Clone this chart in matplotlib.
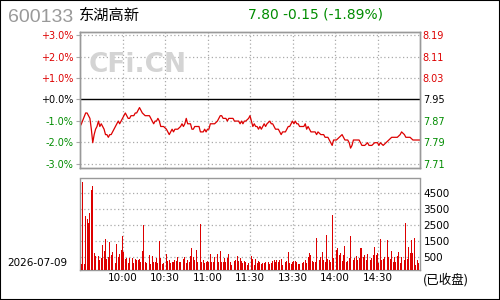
import matplotlib
matplotlib.use('Agg')
import matplotlib.pyplot as plt
from matplotlib.patches import Rectangle

code = '600133'
name = '东湖高新'
trade_date = '2026-07-09'
status = '(已收盘)'
prev_close = 7.95

# minute index (0 = 9:30, 120 = 11:30/13:00, 240 = 15:00) and price
minutes = [0, 1, 4, 5, 7, 8, 9, 10, 11, 12, 13, 14, 15, 16, 17, 18, 19, 20, 21, 22,
           23, 24, 26, 27, 28, 29, 30, 31, 32, 33, 34, 35, 36, 37, 38, 39, 40, 41, 42, 43,
           44, 46, 47, 49, 50, 51, 52, 53, 54, 55, 56, 57, 59, 61, 62, 63, 64, 65, 66, 67,
           68, 69, 71, 72, 73, 74, 75, 76, 78, 79, 80, 81, 84, 85, 87, 88, 89, 90, 91, 92,
           93, 94, 95, 97, 98, 99, 100, 101, 103, 104, 105, 108, 109, 112, 113, 114, 115, 116, 117, 119,
           120, 121, 122, 123, 124, 125, 126, 127, 128, 129, 130, 131, 132, 134, 135, 136, 137, 138, 140, 141,
           142, 143, 145, 146, 147, 148, 149, 150, 151, 152, 153, 154, 155, 156, 158, 159, 160, 161, 162, 163,
           164, 166, 167, 168, 170, 172, 173, 175, 176, 177, 178, 179, 180, 181, 183, 185, 186, 187, 189, 190,
           191, 192, 193, 197, 198, 199, 201, 203, 204, 206, 208, 210, 211, 212, 214, 216, 218, 220, 223, 224,
           226, 227, 229, 230, 233, 235, 238, 240]
prices = [7.85, 7.86, 7.90, 7.90, 7.88, 7.84, 7.79, 7.82, 7.84, 7.85, 7.87, 7.85, 7.86, 7.85, 7.84, 7.82, 7.82, 7.81, 7.82, 7.82,
          7.83, 7.84, 7.86, 7.87, 7.86, 7.87, 7.88, 7.89, 7.90, 7.89, 7.88, 7.88, 7.89, 7.89, 7.89, 7.90, 7.90, 7.91, 7.92, 7.91,
          7.90, 7.89, 7.89, 7.89, 7.88, 7.87, 7.86, 7.87, 7.87, 7.88, 7.87, 7.85, 7.85, 7.84, 7.83, 7.82, 7.83, 7.84, 7.83, 7.84,
          7.84, 7.84, 7.85, 7.86, 7.85, 7.86, 7.88, 7.86, 7.86, 7.84, 7.84, 7.85, 7.85, 7.83, 7.83, 7.84, 7.83, 7.84, 7.84, 7.86,
          7.86, 7.86, 7.86, 7.87, 7.88, 7.89, 7.89, 7.88, 7.88, 7.87, 7.88, 7.88, 7.87, 7.87, 7.86, 7.87, 7.86, 7.87, 7.87, 7.88,
          7.89, 7.87, 7.85, 7.86, 7.85, 7.85, 7.84, 7.85, 7.84, 7.85, 7.86, 7.85, 7.86, 7.87, 7.86, 7.86, 7.85, 7.84, 7.84, 7.83,
          7.82, 7.83, 7.83, 7.84, 7.85, 7.85, 7.86, 7.87, 7.86, 7.87, 7.86, 7.86, 7.85, 7.85, 7.85, 7.86, 7.84, 7.85, 7.84, 7.83,
          7.83, 7.83, 7.82, 7.83, 7.82, 7.82, 7.81, 7.81, 7.80, 7.79, 7.78, 7.80, 7.80, 7.80, 7.81, 7.82, 7.81, 7.80, 7.80, 7.79,
          7.77, 7.78, 7.80, 7.80, 7.79, 7.78, 7.78, 7.79, 7.78, 7.78, 7.79, 7.79, 7.78, 7.79, 7.78, 7.79, 7.80, 7.81, 7.81, 7.81,
          7.82, 7.83, 7.82, 7.81, 7.81, 7.80, 7.80, 7.80]

# per-minute volume, morning (121) and afternoon (120)
vol_am = [580, 60, 5230, 60, 3080, 2890, 2620, 3270, 4710, 4960,
          750, 580, 540, 580, 330, 480, 1270, 890, 1640, 390,
          540, 1440, 640, 810, 390, 120, 1310, 540, 690, 940,
          1830, 830, 370, 480, 120, 440, 1520, 440, 120, 390,
          350, 330, 390, 230, 890, 2520, 190, 120, 100, 640,
          100, 580, 190, 190, 480, 120, 1520, 480, 60, 170,
          330, 710, 270, 330, 170, 190, 190, 330, 270, 540,
          230, 190, 330, 370, 540, 170, 330, 230, 580, 1080,
          540, 330, 960, 190, 120, 2580, 190, 330, 120, 190,
          270, 190, 710, 190, 190, 540, 190, 710, 190, 890,
          190, 190, 440, 190, 480, 710, 190, 20, 270, 290,
          330, 580, 270, 480, 270, 120, 270, 230, 20, 170,
          120]
vol_pm = [580, 390, 20, 390, 120, 270, 190, 80, 120, 120,
          190, 60, 230, 60, 120, 270, 330, 190, 330, 190,
          330, 390, 20, 120, 190, 270, 810, 120, 60, 190,
          290, 270, 190, 60, 60, 120, 120, 190, 330, 120,
          500, 750, 640, 270, 190, 190, 1690, 690, 330, 540,
          850, 330, 190, 1890, 390, 330, 190, 3140, 480, 1020,
          980, 1080, 640, 790, 270, 640, 1230, 190, 270, 440,
          1830, 1020, 330, 440, 580, 330, 480, 1060, 1060, 540,
          640, 330, 690, 850, 330, 480, 640, 1120, 640, 750,
          120, 1640, 330, 390, 540, 540, 1560, 540, 370, 890,
          230, 540, 190, 580, 850, 120, 540, 1100, 330, 2620,
          390, 1170, 750, 1560, 750, 1690, 20, 330, 120, 1730]
volume = vol_am + vol_pm

time_ticks = [30, 60, 90, 120, 150, 180, 210]
time_labels = ['10:00', '10:30', '11:00', '11:30', '13:30', '14:00', '14:30']
pct_levels = [3, 2, 1, 0, -1, -2, -3]
vol_ticks = [500, 1500, 2500, 3500, 4500]

RED = '#dd0000'
GREEN = '#008c00'
GRID = '#aaaaaa'
FRAME = '#999999'
dotted = (0, (1, 2))

plt.rcParams['font.family'] = ['DejaVu Sans', 'Noto Sans CJK SC']

fig = plt.figure(figsize=(5, 3), dpi=100)
ax = fig.add_axes([0.16, 0.44, 0.68, 0.4533])
axv = fig.add_axes([0.16, 0.101, 0.68, 0.304])

# --- price panel
levels = [prev_close * (1 + k / 100) for k in pct_levels]
ylo, yhi = prev_close * (1 - 0.0319), prev_close * (1 + 0.0314)
for k, lv in zip(pct_levels, levels):
    if k == 0:
        ax.axhline(lv, color='black', lw=1.0, zorder=2)
    else:
        ax.axhline(lv, color=GRID, lw=0.9, ls=dotted, zorder=1)
for t in time_ticks:
    ax.axvline(t, color=GRID, lw=0.9, ls=dotted, zorder=1)
ax.plot(minutes, prices, color=RED, lw=0.9, zorder=3)
ax.set_xlim(0, 240)
ax.set_ylim(ylo, yhi)
ax.set_xticks([])

def level_color(k):
    return RED if k > 0 else ('black' if k == 0 else GREEN)

ax.set_yticks(levels)
ax.set_yticklabels([f'{k:+.1f}%' for k in pct_levels], fontsize=7)
for lab, k in zip(ax.get_yticklabels(), pct_levels):
    lab.set_color(level_color(k))
ax.tick_params(axis='y', length=3, color=GRID, pad=2)

ax2 = ax.twinx()
ax2.set_ylim(ylo, yhi)
ax2.set_yticks(levels)
ax2.set_yticklabels([f'{lv:.2f}' for lv in levels], fontsize=7)
for lab, k in zip(ax2.get_yticklabels(), pct_levels):
    lab.set_color(level_color(k))
ax2.tick_params(axis='y', length=0, pad=2)

# --- volume panel
vol_floor = -275
axv.bar(range(len(volume)), [v - vol_floor for v in volume], bottom=vol_floor,
        width=0.7, color=RED, linewidth=0, zorder=3)
for v in vol_ticks:
    axv.axhline(v, color=GRID, lw=0.9, ls=dotted, zorder=1)
for t in time_ticks:
    axv.axvline(t, color=GRID, lw=0.9, ls=dotted, zorder=1)
axv.set_xlim(0, 240)
axv.set_ylim(vol_floor, 5425)
axv.set_xticks(time_ticks)
axv.set_xticklabels(time_labels, fontsize=7.5)
axv.yaxis.tick_right()
axv.set_yticks(vol_ticks)
axv.set_yticklabels([str(v) for v in vol_ticks], fontsize=7.5)
axv.tick_params(length=0, pad=2.5)

for a in (ax, ax2, axv):
    for s in a.spines.values():
        s.set_color(FRAME)
        s.set_linewidth(1.0)

# --- header and footer texts
last = prices[-1]
chg = last - prev_close
pct = chg / prev_close * 100
fig.text(8 / 500, 1 - 17 / 300, code, color='#999999', fontsize=14,
         family='Liberation Sans', va='center')
fig.text(79 / 500, 1 - 15 / 300, name, fontsize=11, family=['Noto Sans CJK SC'], va='center')
fig.text(248 / 500, 1 - 14 / 300, f'{last:.2f} {chg:+.2f} ({pct:+.2f}%)',
         color=GREEN, fontsize=10, va='center')
fig.text(89 / 500, 1 - 65 / 300, 'CFi.CN', color='#d4d4d4', fontsize=19,
         weight='bold', va='center', zorder=0)
fig.text(7 / 500, 1 - 263.5 / 300, trade_date, fontsize=7.5, va='center')
fig.text(423 / 500, 1 - 280 / 300, status, fontsize=9, family=['Noto Sans CJK SC'], va='center')

fig.add_artist(Rectangle((0, 0), 1, 1, transform=fig.transFigure, fill=False,
                         edgecolor='black', lw=1.5))

fig.savefig('out.png', dpi=100)
